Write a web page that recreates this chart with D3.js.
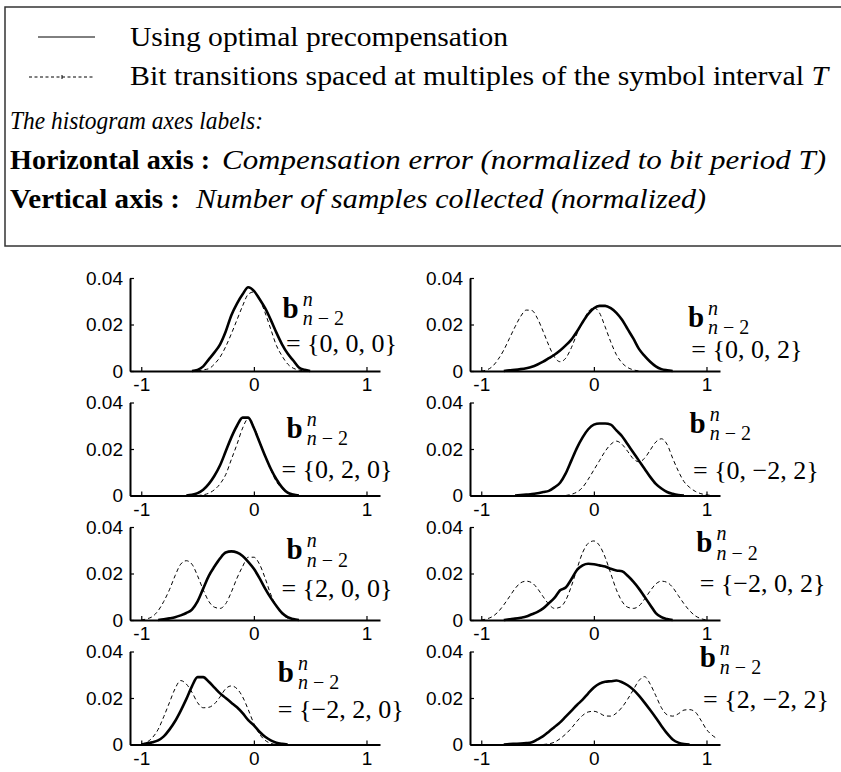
<!DOCTYPE html>
<html>
<head>
<meta charset="utf-8">
<script src="https://cdn.jsdelivr.net/npm/d3@7"></script>
<style>
body { margin: 0; background: #fff; }
svg { display: block; }
.tick text { font-family: "Liberation Sans", Arial, sans-serif; font-size: 19px; fill: #000; }
</style>
</head>
<body>
<script>

// compensation error grid (normalized to T), shared by all histograms
let errorGrid = [-1.1, -1.05, -1, -0.95, -0.9, -0.85, -0.8, -0.75, -0.7, -0.65,
	-0.6, -0.55, -0.5, -0.45, -0.4, -0.35, -0.3, -0.25, -0.2, -0.15,
	-0.1, -0.05, 0, 0.05, 0.1, 0.15, 0.2, 0.25, 0.3, 0.35,
	0.4, 0.45, 0.5, 0.55, 0.6, 0.65, 0.7, 0.75, 0.8, 0.85,
	0.9, 0.95, 1, 1.05, 1.1];

let xTicks = [-1, 0, 1];
let yTicks = [0, 0.02, 0.04];

let patterns = ["{0, 0, 0}", "{0, 2, 0}", "{2, 0, 0}", "{\u22122, 2, 0}",
	"{0, 0, 2}", "{0, \u22122, 2}", "{\u22122, 0, 2}", "{2, \u22122, 2}"];

// solid: using optimal precompensation
let optimal000 = [0,0,0,0,0,0,0,0,0,0,
	0,0,0.0005,0.002,0.005,0.008,0.0115,0.017,0.024,0.029,
	0.033,0.036,0.0345,0.031,0.027,0.022,0.0165,0.0115,0.0075,0.0045,
	0.0015,0.0005,0,0,0,0,0,0,0,0,
	0,0,0,0,0];
let optimal020 = [0,0,0,0,0,0,0,0,0,0,
	0,0.0003,0.001,0.0025,0.005,0.0085,0.013,0.019,0.025,0.030,
	0.0335,0.0335,0.029,0.023,0.017,0.0115,0.007,0.0035,0.0012,0.0004,
	0,0,0,0,0,0,0,0,0,0,
	0,0,0,0,0];
let optimal200 = [0,0,0,0,0,0,0.0003,0.0007,0.0012,0.002,
	0.003,0.0045,0.008,0.0135,0.019,0.023,0.0265,0.029,0.0295,0.029,
	0.0275,0.025,0.022,0.018,0.0135,0.0095,0.006,0.003,0.0012,0.0004,
	0,0,0,0,0,0,0,0,0,0,
	0,0,0,0,0];
let optimalM220 = [0,0,0,0.0005,0.001,0.0018,0.0035,0.0064,0.01,0.0145,
	0.0195,0.025,0.029,0.029,0.027,0.0245,0.022,0.020,0.018,0.016,
	0.0135,0.0105,0.0082,0.0055,0.0033,0.0018,0.0008,0.0003,0,0,
	0,0,0,0,0,0,0,0,0,0,
	0,0,0,0,0];
let optimal002 = [0,0,0,0,0,0,0,0.0003,0.0005,0.0008,
	0.0012,0.0018,0.0028,0.004,0.0055,0.007,0.0088,0.011,0.0135,0.017,
	0.021,0.0245,0.027,0.028,0.028,0.027,0.025,0.022,0.018,0.014,
	0.0095,0.0065,0.004,0.002,0.0008,0.0003,0,0,0,0,
	0,0,0,0,0];
let optimal0M22 = [0,0,0,0,0,0,0,0,0,0.0002,
	0.0004,0.0006,0.001,0.0015,0.002,0.0035,0.0055,0.0095,0.015,0.0205,
	0.025,0.0285,0.0305,0.031,0.031,0.0305,0.028,0.0255,0.022,0.0185,
	0.015,0.0115,0.008,0.005,0.003,0.0015,0.0007,0.0002,0,0,
	0,0,0,0,0];
let optimalM202 = [0,0,0,0,0,0,0,0.0003,0.0006,0.001,
	0.0015,0.0025,0.0035,0.005,0.0072,0.0095,0.0128,0.014,0.0175,0.0215,
	0.0235,0.0242,0.024,0.0235,0.023,0.022,0.0213,0.021,0.019,0.0165,
	0.0135,0.01,0.0065,0.003,0.0012,0.0004,0,0,0,0,
	0,0,0,0,0];
let optimal2M22 = [0,0,0,0,0,0,0,0.0002,0.0003,0.0004,
	0.0006,0.001,0.0022,0.0036,0.0055,0.0075,0.0095,0.012,0.0145,0.017,
	0.0193,0.022,0.0245,0.0262,0.027,0.0272,0.0275,0.0268,0.0255,0.0236,
	0.021,0.018,0.0148,0.0115,0.008,0.0048,0.0022,0.0008,0.0002,0,
	0,0,0,0,0];

// dashed: bit transitions spaced at multiples of T
let spaced000 = [0,0,0,0,0,0,0,0,0,0,
	0,0,0,0.0005,0.001,0.003,0.006,0.0105,0.016,0.022,
	0.028,0.033,0.034,0.031,0.025,0.018,0.011,0.0065,0.003,0.0012,
	0.0004,0,0,0,0,0,0,0,0,0,
	0,0,0,0,0];
let spaced020 = [0,0,0,0,0,0,0,0,0,0,
	0,0,0,0.0003,0.001,0.0025,0.005,0.009,0.0155,0.022,
	0.029,0.033,0.0295,0.0235,0.017,0.011,0.006,0.003,0.001,0,
	0,0,0,0,0,0,0,0,0,0,
	0,0,0,0,0];
let spaced200 = [0,0,0,0.0005,0.0015,0.004,0.008,0.013,0.019,0.024,
	0.0255,0.024,0.019,0.013,0.008,0.0055,0.005,0.007,0.012,0.018,
	0.023,0.027,0.027,0.024,0.018,0.011,0.006,0.0025,0.0008,0,
	0,0,0,0,0,0,0,0,0,0,
	0,0,0,0,0];
let spacedM220 = [0,0,0,0.001,0.003,0.0065,0.012,0.018,0.024,0.0275,
	0.026,0.0225,0.018,0.0158,0.016,0.0175,0.0205,0.024,0.0252,0.024,
	0.0205,0.015,0.009,0.0045,0.0018,0.0005,0,0,0,0,
	0,0,0,0,0,0,0,0,0,0,
	0,0,0,0,0];
let spaced002 = [0,0,0,0.0005,0.002,0.005,0.009,0.014,0.019,0.0235,
	0.0262,0.026,0.0225,0.017,0.011,0.006,0.004,0.0055,0.01,0.016,
	0.021,0.0255,0.0272,0.025,0.019,0.0125,0.007,0.0035,0.0015,0.0005,
	0,0,0,0,0,0,0,0,0,0,
	0,0,0,0,0];
let spaced0M22 = [0,0,0,0,0,0,0,0,0,0,
	0,0,0,0,0,0,0,0,0.0005,0.0015,
	0.0035,0.007,0.011,0.015,0.019,0.022,0.0234,0.022,0.019,0.0158,
	0.0145,0.016,0.0195,0.023,0.0244,0.022,0.016,0.0105,0.006,0.0035,
	0.0018,0.0008,0.0003,0,0];
let spacedM202 = [0,0,0,0.0005,0.0015,0.0035,0.0065,0.01,0.0135,0.016,
	0.0167,0.016,0.0135,0.01,0.0068,0.005,0.0055,0.0085,0.0145,0.022,
	0.029,0.033,0.034,0.032,0.027,0.02,0.013,0.008,0.0055,0.005,
	0.006,0.009,0.0125,0.0155,0.0167,0.0162,0.014,0.0105,0.007,0.004,
	0.0018,0.0006,0,0,0];
let spaced2M22 = [0,0,0,0,0,0,0,0,0,0,
	0,0,0,0,0.0003,0.001,0.0025,0.0045,0.007,0.01,
	0.0125,0.014,0.0143,0.0135,0.0123,0.0122,0.0135,0.016,0.0195,0.0235,
	0.0275,0.0292,0.026,0.021,0.0158,0.0128,0.0122,0.0132,0.0148,0.015,
	0.014,0.0105,0.0065,0.004,0.0024];

let optimalSeries = [optimal000, optimal020, optimal200, optimalM220,
	optimal002, optimal0M22, optimalM202, optimal2M22];
let spacedSeries = [spaced000, spaced020, spaced200, spacedM220,
	spaced002, spaced0M22, spacedM202, spaced2M22];

// where the b^n_{n-2} label sits, in axis units (error, count)
let labelSpots = [
	{bx: 0.255, by: 0.023, ex: 0.285, ey: 0.0080},
	{bx: 0.29, by: 0.0248, ex: 0.245, ey: 0.0076},
	{bx: 0.29, by: 0.0261, ex: 0.245, ey: 0.0098},
	{bx: 0.213, by: 0.027, ex: 0.213, ey: 0.0114},
	{bx: 0.835, by: 0.0191, ex: 0.865, ey: 0.0054},
	{bx: 0.85, by: 0.027, ex: 0.88, ey: 0.0071},
	{bx: 0.91, by: 0.0291, ex: 0.94, ey: 0.0119},
	{bx: 0.94, by: 0.0335, ex: 0.97, ey: 0.0158}
];

let width = 841;
let height = 772;
let serif = '"Liberation Serif", "Times New Roman", serif';

let svg = d3.select("body")
	.append("svg")
		.attr("width", width)
		.attr("height", height);

svg.append("rect")
	.attr("width", width)
	.attr("height", height)
	.attr("fill", "#fff");

// ---- legend box ----
let legend = svg.append("g").attr("font-family", serif).attr("font-size", 27);

legend.append("rect")
	.attr("x", 5).attr("y", 7)
	.attr("width", 860).attr("height", 239)
	.attr("fill", "none")
	.attr("stroke", "#333")
	.attr("stroke-width", 1.5);

legend.append("line")
	.attr("x1", 38).attr("x2", 95).attr("y1", 37).attr("y2", 37)
	.attr("stroke", "#000").attr("stroke-width", 1);

legend.append("line")
	.attr("x1", 29).attr("x2", 95).attr("y1", 77).attr("y2", 77)
	.attr("stroke", "#000").attr("stroke-width", 1)
	.attr("stroke-dasharray", "3,2.5");
legend.append("line")
	.attr("x1", 62).attr("x2", 62).attr("y1", 75).attr("y2", 79)
	.attr("stroke", "#000").attr("stroke-width", 1);

// the reference uses a wide TeX face; stretch to its measured widths
function legendText(x, y, len) {
	return legend.append("text")
		.attr("x", x).attr("y", y)
		.attr("textLength", len)
		.attr("lengthAdjust", "spacingAndGlyphs");
}

legendText(130, 46, 378).text("Using optimal precompensation");

let l2 = legendText(130, 85, 698);
l2.append("tspan").text("Bit transitions spaced at multiples of the symbol interval ");
l2.append("tspan").attr("font-style", "italic").text("T");

legendText(10, 129, 253).attr("font-style", "italic").attr("font-size", 25)
	.text("The histogram axes labels:");

legendText(10, 169, 200).attr("font-weight", "bold").text("Horizontal axis :");
legendText(222, 169, 604).attr("font-style", "italic")
	.text("Compensation error (normalized to bit period T)");

legendText(10, 208, 170).attr("font-weight", "bold").text("Vertical axis :");
legendText(196, 208, 510).attr("font-style", "italic")
	.text("Number of samples collected (normalized)");

// ---- histogram panels ----
let colLeft = [130, 470];
let rowTop = [278, 402.5, 527, 651.5];
let plotW = 250;
let plotH = 93;

let xScale = d3.scaleLinear().domain([-1.1, 1.12]).range([0, plotW]);
let yScale = d3.scaleLinear().domain([0, 0.04]).range([plotH, 0]);

let xAxis = d3.axisBottom(xScale)
	.tickValues(xTicks)
	.tickSizeInner(-4).tickSizeOuter(0).tickPadding(7)
	.tickFormat(d => String(d));
let yAxis = d3.axisLeft(yScale)
	.tickValues(yTicks)
	.tickSizeInner(-4).tickSizeOuter(0).tickPadding(7)
	.tickFormat(d => d === 0 ? "0" : d.toFixed(2));

let line = d3.line()
	.x(d => xScale(d[0]))
	.y(d => yScale(d[1]))
	.curve(d3.curveMonotoneX);

function trimmed(values) {
	let first = values.findIndex(v => v > 0);
	let last = values.length - 1 - values.slice().reverse().findIndex(v => v > 0);
	let pts = [];
	for (let i = Math.max(0, first - 1); i <= Math.min(values.length - 1, last + 1); i++) {
		pts.push([errorGrid[i], values[i]]);
	}
	return pts;
}

patterns.forEach((pat, i) => {
	let col = Math.floor(i / 4), row = i % 4;
	let g = svg.append("g")
		.attr("transform", "translate(" + colLeft[col] + "," + rowTop[row] + ")");

	// x axis
	let gx = g.append("g")
		.attr("transform", "translate(0," + plotH + ")")
		.call(xAxis);
	// y axis
	let gy = g.append("g").call(yAxis);

	[gx, gy].forEach(a => {
		a.select(".domain").attr("stroke", "#000").attr("stroke-width", 2);
		a.selectAll(".tick line").attr("stroke", "#000").attr("stroke-width", 1.2);
	});

	g.append("path")
		.datum(trimmed(spacedSeries[i]))
		.attr("d", line)
		.attr("fill", "none")
		.attr("stroke", "#000")
		.attr("stroke-width", 1)
		.attr("stroke-dasharray", "4,3");

	g.append("path")
		.datum(trimmed(optimalSeries[i]))
		.attr("d", line)
		.attr("fill", "none")
		.attr("stroke", "#000")
		.attr("stroke-width", 2.6)
		.attr("stroke-linejoin", "round");

	// b^n_{n-2} = {...} label
	let spot = labelSpots[i];
	let lab = g.append("g").attr("font-family", serif).attr("fill", "#000");
	let bx = xScale(spot.bx), by = yScale(spot.by);
	let b = lab.append("text")
		.attr("x", bx).attr("y", by)
		.attr("font-size", 29).attr("font-weight", "bold")
		.text("b");
	let bw = b.node().getComputedTextLength();
	lab.append("text")
		.attr("x", bx + bw + 4).attr("y", by - 12)
		.attr("font-size", 20).attr("font-style", "italic")
		.text("n");
	let sub = lab.append("text")
		.attr("x", bx + bw + 4).attr("y", by + 7.5)
		.attr("font-size", 20);
	sub.append("tspan").attr("font-style", "italic").text("n");
	sub.append("tspan").text(" \u2212 2");
	lab.append("text")
		.attr("x", xScale(spot.ex)).attr("y", yScale(spot.ey))
		.attr("font-size", 26)
		.text("= " + pat);
});

</script>
</body>
</html>
